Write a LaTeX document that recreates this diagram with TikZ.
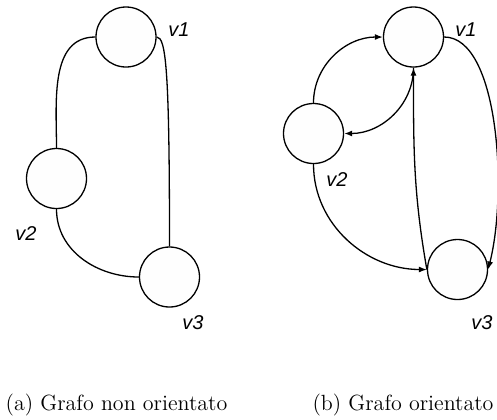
\documentclass[tikz,border=0pt]{standalone}
\usepackage{fontspec}
\newfontfamily\lblfont{Liberation Sans}
\usetikzlibrary{arrows.meta}
\begin{document}
\begin{tikzpicture}[x=0.5pt,y=-0.5pt,
  vert/.style={circle,draw,line width=0.65pt,fill=gray!1,minimum size=30pt,inner sep=0pt},
  vlabel/.style={font=\lblfont\itshape\fontsize{10}{12}\selectfont,inner sep=0pt},
  edge/.style={line width=0.65pt},
  arc/.style={line width=0.65pt,-{Latex[length=4pt,width=3pt]}},
  captext/.style={font=\fontsize{11}{13}\selectfont,inner sep=0pt,anchor=base}]
\useasboundingbox (0,0) rectangle (497,419);
% (a)
\node[vert] (a1) at (126,37) {};
\node[vert] (a2) at (56.5,178.5) {};
\node[vert] (a3) at (169.5,277) {};
\node[vlabel] (la1) at (179,30) {v1};
\node[vlabel] (la2) at (26,234) {v2};
\node[vlabel] (la3) at (193,323) {v3};
\draw[edge] (a1.west) to[out=180,in=90] (a2.north);
\draw[edge] (a1.east) .. controls (166,37) and (169.5,70) .. (a3.north);
\draw[edge] (a2.south) to[out=-90,in=180] (a3.west);
% (b)
\node[vert] (b1) at (413.5,37) {};
\node[vert] (b2) at (313.5,133.5) {};
\node[vert] (b3) at (457.5,269.5) {};
\node[vlabel] (lb1) at (466,30) {v1};
\node[vlabel] (lb2) at (337,180) {v2};
\node[vlabel] (lb3) at (482,323) {v3};
\draw[arc] (b2.north) to[out=90,in=180] (b1.west);
\draw[arc] (b1.south) to[out=-90,in=0] (b2.east);
\draw[arc] (b3.west) to[out=100,in=-90] (b1.south);
\draw[arc] (b2.south) to[out=-90,in=180] (b3.west);
\draw[arc] (b1.east) .. controls (498,37) and (508,190) .. (b3.east);
% captions
\node[captext] (ca) at (116.5,410) {(a) Grafo non orientato};
\node[captext] (cb) at (403,410) {(b) Grafo orientato};
\end{tikzpicture}
\end{document}
